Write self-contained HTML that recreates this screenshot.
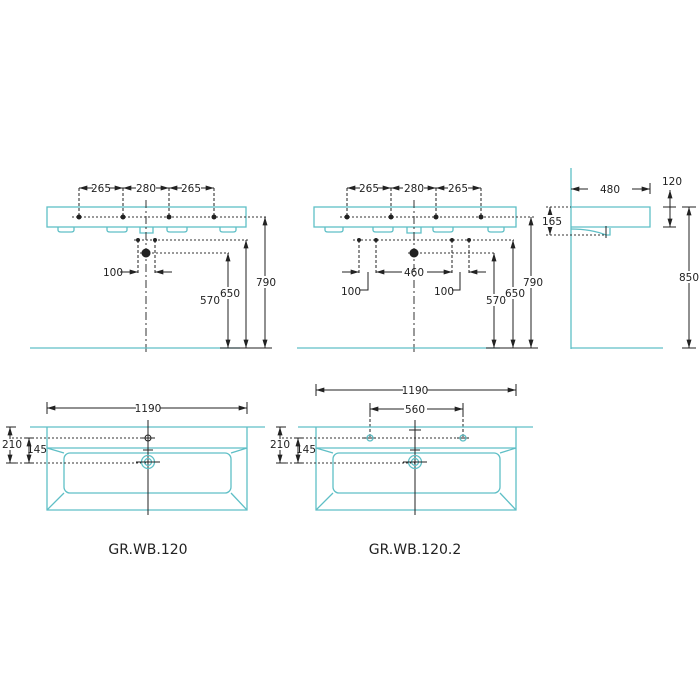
<!DOCTYPE html>
<html><head><meta charset="utf-8"><style>
html,body{margin:0;padding:0;background:#fff;}
svg{display:block;}
text{font-family:"DejaVu Sans","Liberation Sans",sans-serif;font-size:10.5px;fill:#222;}
.c{stroke:#5fbfc6;stroke-width:1.3;fill:none;}
.k{stroke:#222;stroke-width:1;fill:none;}
.d{stroke:#333;stroke-width:1;fill:none;stroke-dasharray:2,2;}
.dd{stroke:#333;stroke-width:1;fill:none;stroke-dasharray:8,3,2,3;}
</style></head><body>
<svg width="700" height="700" viewBox="0 0 700 700" xmlns="http://www.w3.org/2000/svg">
<defs>
<marker id="a" viewBox="0 0 10 6" refX="10" refY="3" markerWidth="9" markerHeight="5" orient="auto-start-reverse" markerUnits="userSpaceOnUse"><path d="M0,0L10,3L0,6z" fill="#222"/></marker>
</defs>
<rect width="700" height="700" fill="#fff"/>

<!-- ===== Front view left ===== -->
<rect class="c" x="47" y="207" width="199" height="20"/>
<path class="c" d="M58,227v3q0,2 3,2h10q3,0 3,-2v-3 M107,227v3q0,2 3,2h14q3,0 3,-2v-3 M167,227v3q0,2 3,2h14q3,0 3,-2v-3 M220,227v3q0,2 3,2h10q3,0 3,-2v-3 M140,227v6h13v-6"/>
<line class="dd" x1="146" y1="200" x2="146" y2="353"/>
<line class="d" x1="72" y1="217" x2="268" y2="217"/>
<g class="k"><line x1="79" y1="188" x2="79" y2="218" stroke-dasharray="3,2"/><line x1="123" y1="188" x2="123" y2="218" stroke-dasharray="3,2"/><line x1="169" y1="188" x2="169" y2="218" stroke-dasharray="3,2"/><line x1="214" y1="188" x2="214" y2="218" stroke-dasharray="3,2"/></g>
<g fill="#222"><circle cx="79" cy="217" r="2.5"/><circle cx="123" cy="217" r="2.5"/><circle cx="169" cy="217" r="2.5"/><circle cx="214" cy="217" r="2.5"/></g>
<line class="k" x1="79" y1="188" x2="93" y2="188" marker-start="url(#a)"/><line class="k" x1="109" y1="188" x2="123" y2="188" marker-end="url(#a)"/>
<line class="k" x1="123" y1="188" x2="136" y2="188" marker-start="url(#a)"/><line class="k" x1="156" y1="188" x2="169" y2="188" marker-end="url(#a)"/>
<line class="k" x1="169" y1="188" x2="182" y2="188" marker-start="url(#a)"/><line class="k" x1="201" y1="188" x2="214" y2="188" marker-end="url(#a)"/>
<text x="101" y="192" text-anchor="middle">265</text><text x="146" y="192" text-anchor="middle">280</text><text x="191" y="192" text-anchor="middle">265</text>
<line class="d" x1="134" y1="240" x2="248" y2="240"/>
<circle cx="138" cy="240" r="2" fill="#222"/><circle cx="155" cy="240" r="2" fill="#222"/>
<line class="k" x1="138" y1="240" x2="138" y2="275" stroke-dasharray="3,2"/><line class="k" x1="155" y1="240" x2="155" y2="275" stroke-dasharray="3,2"/>
<line class="d" x1="140" y1="253" x2="229" y2="253"/>
<circle cx="146" cy="253" r="4.5" fill="#222"/>
<line class="k" x1="120" y1="272" x2="138" y2="272" marker-end="url(#a)"/><line class="k" x1="172" y1="272" x2="155" y2="272" marker-end="url(#a)"/>
<text x="103" y="276">100</text>
<line class="c" x1="30" y1="348" x2="240" y2="348"/>
<line class="k" x1="228" y1="253" x2="228" y2="348" marker-start="url(#a)" marker-end="url(#a)"/>
<line class="k" x1="246" y1="240" x2="246" y2="348" marker-start="url(#a)" marker-end="url(#a)"/>
<line class="k" x1="265" y1="217" x2="265" y2="348" marker-start="url(#a)" marker-end="url(#a)"/>
<line class="k" x1="220" y1="348" x2="272" y2="348"/>
<rect x="200" y="294" width="19" height="12" fill="#fff"/><text x="200" y="304">570</text>
<rect x="219" y="287" width="20" height="12" fill="#fff"/><text x="220" y="297">650</text>
<rect x="256" y="276" width="20" height="12" fill="#fff"/><text x="256" y="286">790</text>

<!-- ===== Front view middle ===== -->
<rect class="c" x="314" y="207" width="202" height="20"/>
<path class="c" d="M325,227v3q0,2 3,2h12q3,0 3,-2v-3 M373,227v3q0,2 3,2h14q3,0 3,-2v-3 M433,227v3q0,2 3,2h14q3,0 3,-2v-3 M488,227v3q0,2 3,2h10q3,0 3,-2v-3 M407,227v6h14v-6"/>
<line class="dd" x1="414" y1="200" x2="414" y2="353"/>
<line class="d" x1="340" y1="217" x2="534" y2="217"/>
<g class="k" stroke-dasharray="3,2"><line x1="347" y1="188" x2="347" y2="218"/><line x1="391" y1="188" x2="391" y2="218"/><line x1="436" y1="188" x2="436" y2="218"/><line x1="481" y1="188" x2="481" y2="218"/></g>
<g fill="#222"><circle cx="347" cy="217" r="2.5"/><circle cx="391" cy="217" r="2.5"/><circle cx="436" cy="217" r="2.5"/><circle cx="481" cy="217" r="2.5"/></g>
<line class="k" x1="347" y1="188" x2="360" y2="188" marker-start="url(#a)"/><line class="k" x1="378" y1="188" x2="391" y2="188" marker-end="url(#a)"/>
<line class="k" x1="391" y1="188" x2="403" y2="188" marker-start="url(#a)"/><line class="k" x1="424" y1="188" x2="436" y2="188" marker-end="url(#a)"/>
<line class="k" x1="436" y1="188" x2="448" y2="188" marker-start="url(#a)"/><line class="k" x1="468" y1="188" x2="481" y2="188" marker-end="url(#a)"/>
<text x="369" y="192" text-anchor="middle">265</text><text x="414" y="192" text-anchor="middle">280</text><text x="458" y="192" text-anchor="middle">265</text>
<line class="d" x1="353" y1="240" x2="514" y2="240"/>
<g fill="#222"><circle cx="359" cy="240" r="2"/><circle cx="376" cy="240" r="2"/><circle cx="452" cy="240" r="2"/><circle cx="469" cy="240" r="2"/></g>
<g class="k" stroke-dasharray="3,2"><line x1="359" y1="240" x2="359" y2="275"/><line x1="376" y1="240" x2="376" y2="275"/><line x1="452" y1="240" x2="452" y2="275"/><line x1="469" y1="240" x2="469" y2="275"/></g>
<line class="d" x1="408" y1="253" x2="495" y2="253"/>
<circle cx="414" cy="253" r="4.5" fill="#222"/>
<line class="k" x1="342" y1="272" x2="359" y2="272" marker-end="url(#a)"/>
<line class="k" x1="376" y1="272" x2="402" y2="272" marker-start="url(#a)"/>
<line class="k" x1="427" y1="272" x2="452" y2="272" marker-end="url(#a)"/>
<line class="k" x1="486" y1="272" x2="469" y2="272" marker-end="url(#a)"/>
<text x="414" y="276" text-anchor="middle">460</text>
<path class="k" d="M368,272v18h-8 M460,272v18h-8"/>
<text x="341" y="295">100</text><text x="434" y="295">100</text>
<line class="c" x1="297" y1="348" x2="500" y2="348"/>
<line class="k" x1="494" y1="253" x2="494" y2="348" marker-start="url(#a)" marker-end="url(#a)"/>
<line class="k" x1="513" y1="240" x2="513" y2="348" marker-start="url(#a)" marker-end="url(#a)"/>
<line class="k" x1="531" y1="217" x2="531" y2="348" marker-start="url(#a)" marker-end="url(#a)"/>
<line class="k" x1="486" y1="348" x2="538" y2="348"/>
<rect x="486" y="294" width="19" height="12" fill="#fff"/><text x="486" y="304">570</text>
<rect x="505" y="287" width="20" height="12" fill="#fff"/><text x="505" y="297">650</text>
<rect x="523" y="276" width="20" height="12" fill="#fff"/><text x="523" y="286">790</text>

<!-- ===== Side view ===== -->
<line class="c" x1="571" y1="168" x2="571" y2="349"/>
<line class="c" x1="571" y1="348" x2="663" y2="348"/>
<path class="c" d="M571,207H650V227H571 M571,229q20,0 35,6h4v-7" />
<line class="k" x1="606" y1="226" x2="606" y2="238"/>
<line class="k" x1="571" y1="189" x2="588" y2="189" marker-start="url(#a)"/><line class="k" x1="632" y1="189" x2="650" y2="189" marker-end="url(#a)"/>
<line class="k" x1="650" y1="183" x2="650" y2="194"/>
<text x="610" y="193" text-anchor="middle">480</text>
<line class="d" x1="546" y1="207" x2="571" y2="207"/><line class="d" x1="546" y1="235" x2="606" y2="235"/>
<line class="k" x1="550" y1="207" x2="550" y2="235" marker-start="url(#a)" marker-end="url(#a)"/>
<rect x="542" y="215" width="20" height="12" fill="#fff"/><text x="542" y="225">165</text>
<line class="k" x1="670" y1="190" x2="670" y2="227" marker-start="url(#a)" marker-end="url(#a)"/>
<line class="k" x1="663" y1="207" x2="676" y2="207"/><line class="k" x1="663" y1="227" x2="676" y2="227"/>
<text x="662" y="185">120</text>
<line class="k" x1="689" y1="207" x2="689" y2="348" marker-start="url(#a)" marker-end="url(#a)"/>
<line class="k" x1="682" y1="207" x2="696" y2="207"/><line class="k" x1="682" y1="348" x2="696" y2="348"/>
<rect x="679" y="271" width="21" height="12" fill="#fff"/><text x="679" y="281">850</text>

<!-- ===== Plan left ===== -->
<line class="k" x1="47" y1="402" x2="47" y2="414"/><line class="k" x1="247" y1="402" x2="247" y2="414"/>
<line class="k" x1="47" y1="408" x2="136" y2="408" marker-start="url(#a)"/><line class="k" x1="160" y1="408" x2="247" y2="408" marker-end="url(#a)"/>
<text x="148" y="412" text-anchor="middle">1190</text>
<line class="c" x1="30" y1="427" x2="265" y2="427"/>
<path class="c" d="M47,427V510H247V427 M47,448H247"/>
<rect class="c" x="64" y="453" width="167" height="40" rx="6"/>
<path class="c" d="M47,448L64,453 M247,448L231,453 M47,510L64,493 M247,510L231,493"/>
<line class="d" x1="12" y1="438" x2="148" y2="438"/><line class="d" x1="12" y1="463" x2="148" y2="463"/>
<line class="k" x1="148" y1="420" x2="148" y2="515"/>
<line class="k" x1="142" y1="438" x2="155" y2="438"/><circle cx="148" cy="438" r="3" class="k"/>
<line class="k" x1="143" y1="450" x2="153" y2="450"/>
<circle cx="148" cy="462" r="6.5" class="c"/><circle cx="148" cy="462" r="3.5" class="c"/>
<line class="k" x1="136" y1="462" x2="160" y2="462"/>
<line class="k" x1="10" y1="427" x2="10" y2="463" marker-start="url(#a)" marker-end="url(#a)"/>
<line class="k" x1="6" y1="427" x2="16" y2="427"/><line class="k" x1="6" y1="463" x2="16" y2="463"/>
<line class="k" x1="29" y1="438" x2="29" y2="463" marker-start="url(#a)" marker-end="url(#a)"/>
<line class="k" x1="25" y1="438" x2="34" y2="438"/><line class="k" x1="25" y1="463" x2="34" y2="463"/>
<rect x="2" y="439" width="19" height="11" fill="#fff"/><text x="2" y="448">210</text>
<text x="27" y="453">145</text>
<text x="148" y="554" text-anchor="middle" style="font-size:14px">GR.WB.120</text>

<!-- ===== Plan right ===== -->
<line class="k" x1="316" y1="384" x2="316" y2="396"/><line class="k" x1="516" y1="384" x2="516" y2="396"/>
<line class="k" x1="316" y1="390" x2="403" y2="390" marker-start="url(#a)"/><line class="k" x1="427" y1="390" x2="516" y2="390" marker-end="url(#a)"/>
<text x="415" y="394" text-anchor="middle">1190</text>
<line class="k" x1="370" y1="403" x2="370" y2="415"/><line class="k" x1="463" y1="403" x2="463" y2="415"/>
<line class="k" x1="370" y1="409" x2="404" y2="409" marker-start="url(#a)"/><line class="k" x1="427" y1="409" x2="463" y2="409" marker-end="url(#a)"/>
<text x="415" y="413" text-anchor="middle">560</text>
<line class="k" x1="370" y1="409" x2="370" y2="438" stroke-dasharray="3,2"/><line class="k" x1="463" y1="409" x2="463" y2="438" stroke-dasharray="3,2"/>
<line class="c" x1="298" y1="427" x2="533" y2="427"/>
<path class="c" d="M316,427V510H516V427 M316,448H516"/>
<rect class="c" x="333" y="453" width="167" height="40" rx="6"/>
<path class="c" d="M316,448L333,453 M516,448L500,453 M316,510L333,493 M516,510L500,493"/>
<line class="d" x1="282" y1="438" x2="470" y2="438"/><line class="d" x1="282" y1="463" x2="415" y2="463"/>
<line class="k" x1="415" y1="420" x2="415" y2="515"/>
<line class="k" x1="409" y1="430" x2="421" y2="430"/>
<line class="k" x1="364" y1="438" x2="376" y2="438"/><circle cx="370" cy="438" r="3" class="c"/>
<line class="k" x1="457" y1="438" x2="469" y2="438"/><circle cx="463" cy="438" r="3" class="c"/>
<line class="k" x1="410" y1="450" x2="420" y2="450"/>
<circle cx="415" cy="462" r="6.5" class="c"/><circle cx="415" cy="462" r="3.5" class="c"/>
<line class="k" x1="403" y1="462" x2="427" y2="462"/>
<line class="k" x1="280" y1="427" x2="280" y2="463" marker-start="url(#a)" marker-end="url(#a)"/>
<line class="k" x1="276" y1="427" x2="286" y2="427"/><line class="k" x1="276" y1="463" x2="286" y2="463"/>
<line class="k" x1="298" y1="438" x2="298" y2="463" marker-start="url(#a)" marker-end="url(#a)"/>
<line class="k" x1="294" y1="438" x2="303" y2="438"/><line class="k" x1="294" y1="463" x2="303" y2="463"/>
<rect x="270" y="439" width="19" height="11" fill="#fff"/><text x="270" y="448">210</text>
<text x="296" y="453">145</text>
<text x="415" y="554" text-anchor="middle" style="font-size:14px">GR.WB.120.2</text>
</svg>
</body></html>
